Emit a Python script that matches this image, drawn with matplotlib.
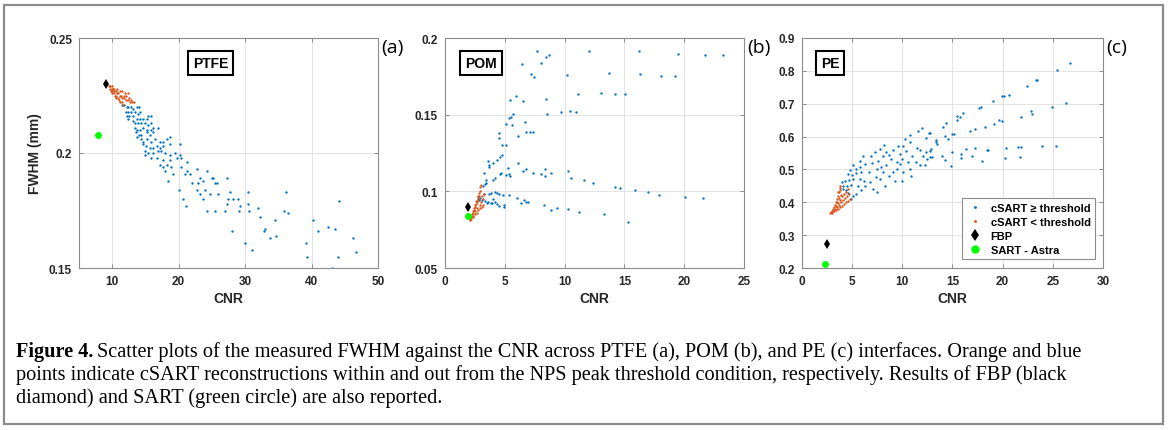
import matplotlib
matplotlib.use("Agg")
import matplotlib.pyplot as plt
from matplotlib.patches import Rectangle
import numpy as np

plt.rcParams['font.family'] = ['Liberation Sans', 'DejaVu Sans']

# ---------------- data ----------------
# (a) PTFE
ptfe_blue_cnr = [11.4, 11.8, 12.2, 12.4, 12.8, 13.2, 13.7, 14.1, 12.1, 12.4, 12.9, 13.4, 13.9, 14.2,
                 12.2, 12.5, 13.2, 13.7, 14.2, 14.7, 15.2, 15.4, 15.8, 12.4, 13.1, 13.4, 13.9, 14.4,
                 14.9, 15.4, 15.9, 13.4, 13.7, 14.2, 14.7, 15.2, 15.9, 16.2, 16.9, 13.6, 14.1, 14.4,
                 15.2, 15.7, 16.2, 13.8, 14.4, 14.7, 15.2, 15.9, 16.4, 17.2, 17.7, 18.2, 18.7, 14.6,
                 15.1, 15.7, 16.2, 16.7, 17.2, 17.7, 18.7, 20.2, 15.0, 15.4, 16.2, 16.9, 17.4, 17.9,
                 18.7, 19.4, 14.9, 15.9, 16.7, 17.7, 18.7, 19.7, 20.2, 20.4, 21.2, 17.2, 17.7, 18.2,
                 18.9, 19.2, 17.9, 20.4, 21.2, 21.7, 22.7, 23.2, 22.9, 23.7, 24.2, 25.0, 25.7, 25.2,
                 21.0, 22.0, 22.7, 23.2, 23.7, 24.0, 24.7, 25.4, 25.9, 27.2, 27.7, 27.4, 27.2, 28.2,
                 29.0, 29.2, 30.5, 30.5, 30.6, 31.9, 32.2, 32.8, 33.0, 33.8, 34.7, 34.5, 35.8, 36.1,
                 36.5, 28.1, 30.0, 31.0, 39.2, 39.3, 40.2, 41.0, 42.5, 43.5, 44.2, 44.0, 43.1, 46.3,
                 46.7, 20.1, 20.6, 21.1, 18.4, 24.2, 25.4, 26.9, 29.1]
ptfe_blue_fwhm = [0.221, 0.221, 0.220, 0.220, 0.220, 0.219, 0.220, 0.220, 0.218, 0.218, 0.218, 0.218, 0.217, 0.218,
                  0.216, 0.216, 0.216, 0.215, 0.215, 0.215, 0.215, 0.216, 0.216, 0.215, 0.214, 0.213, 0.213, 0.213,
                  0.213, 0.212, 0.213, 0.211, 0.210, 0.210, 0.211, 0.210, 0.210, 0.211, 0.211, 0.209, 0.208, 0.208,
                  0.209, 0.208, 0.209, 0.207, 0.206, 0.205, 0.206, 0.205, 0.206, 0.205, 0.205, 0.206, 0.207, 0.204,
                  0.203, 0.202, 0.202, 0.203, 0.202, 0.203, 0.204, 0.204, 0.201, 0.200, 0.200, 0.201, 0.201, 0.200,
                  0.199, 0.200, 0.199, 0.198, 0.198, 0.197, 0.197, 0.198, 0.199, 0.198, 0.196, 0.195, 0.194, 0.195,
                  0.194, 0.191, 0.192, 0.194, 0.192, 0.191, 0.193, 0.189, 0.187, 0.188, 0.192, 0.189, 0.187, 0.189,
                  0.191, 0.187, 0.184, 0.182, 0.180, 0.184, 0.182, 0.187, 0.182, 0.189, 0.183, 0.180, 0.178, 0.180,
                  0.180, 0.177, 0.183, 0.178, 0.175, 0.176, 0.172, 0.166, 0.167, 0.163, 0.164, 0.171, 0.175, 0.183,
                  0.174, 0.166, 0.161, 0.158, 0.161, 0.155, 0.171, 0.166, 0.168, 0.167, 0.179, 0.155, 0.150, 0.163,
                  0.157, 0.184, 0.180, 0.177, 0.188, 0.175, 0.175, 0.175, 0.175]
ptfe_orange_cnr = [9.5, 9.7, 9.9, 10.1, 10.3, 10.5, 10.7, 10.9, 11.1, 11.3, 11.5, 11.8, 12.1, 12.4, 12.7, 13.0,
                   13.3, 9.6, 9.8, 10.0, 10.2, 10.4, 10.6, 10.8, 11.0, 11.2, 11.4, 11.6, 9.9, 10.3, 10.7, 11.1,
                   11.5, 11.9, 12.3, 12.0, 12.6, 11.7, 12.9, 10.0, 10.5]
ptfe_orange_fwhm = [0.229, 0.229, 0.228, 0.228, 0.227, 0.227, 0.226, 0.226, 0.225, 0.225, 0.224, 0.224, 0.223, 0.223,
                    0.222, 0.222, 0.222, 0.228, 0.227, 0.226, 0.226, 0.225, 0.224, 0.224, 0.223, 0.222, 0.222, 0.221,
                    0.229, 0.228, 0.228, 0.227, 0.227, 0.226, 0.226, 0.225, 0.224, 0.225, 0.223, 0.227, 0.225]
ptfe_fbp = (9.1, 0.230)
ptfe_sart = (7.9, 0.208)

# (b) POM
pom_blue_cnr = [7.66, 6.40, 8.02, 8.41, 8.71, 7.15, 7.46, 10.22, 5.40, 5.96, 6.51, 8.41, 11.11, 8.49, 5.71,
                5.54, 5.37, 9.69, 10.47, 10.94, 6.68, 5.07, 5.62, 4.54, 4.48, 6.07, 6.74, 7.13, 7.38, 4.79,
                5.12, 4.76, 4.57, 4.34, 3.56, 3.70, 4.01, 3.65, 6.07, 5.23, 5.32, 5.07, 4.68, 4.59, 5.40,
                6.49, 6.74, 7.38, 8.35, 7.99, 8.32, 8.85, 10.25, 10.52, 11.66, 12.36, 3.29, 3.42, 3.42,
                3.31, 3.20, 3.98, 4.15, 3.65, 3.87, 4.18, 4.37, 4.54, 4.87, 5.37, 3.23, 2.87, 3.12, 3.31,
                3.56, 3.90, 4.18, 4.37, 4.54, 4.90, 4.93, 5.99, 6.32, 6.57, 6.79, 6.93, 2.73, 2.95, 8.30,
                8.83, 9.38, 10.27, 11.19, 3.48, 3.81, 4.04, 16.23, 19.49, 21.74, 23.25, 13.75, 16.31,
                18.07, 19.24, 13.03, 14.25, 15.06, 14.25, 14.61, 15.89, 16.98, 17.87, 20.07, 21.55,
                13.31, 15.31, 12.0]
pom_blue_fwhm = [0.1918, 0.1831, 0.1837, 0.1874, 0.1889, 0.1766, 0.1746, 0.1761, 0.1598, 0.1620, 0.1588, 0.1601,
                 0.1638, 0.1505, 0.1505, 0.1488, 0.1477, 0.1520, 0.1522, 0.1520, 0.1449, 0.1438, 0.1434, 0.1381,
                 0.1349, 0.1360, 0.1384, 0.1386, 0.1386, 0.1299, 0.1299, 0.1234, 0.1225, 0.1203, 0.1195, 0.1173,
                 0.1182, 0.1160, 0.1186, 0.1151, 0.1110, 0.1108, 0.1119, 0.1114, 0.1103, 0.1134, 0.1143, 0.1121,
                 0.1145, 0.1110, 0.1103, 0.1119, 0.1132, 0.1090, 0.1073, 0.1056, 0.1117, 0.1071, 0.1056, 0.1047,
                 0.1038, 0.1077, 0.1088, 0.0984, 0.0991, 0.0995, 0.0991, 0.0982, 0.0978, 0.0973, 0.0982, 0.0943,
                 0.0941, 0.0934, 0.0930, 0.0925, 0.0930, 0.0917, 0.0904, 0.0908, 0.0897, 0.0958, 0.0925, 0.0941,
                 0.0932, 0.0930, 0.0952, 0.0956, 0.0908, 0.0876, 0.0891, 0.0882, 0.0865, 0.0925, 0.0921, 0.0951,
                 0.1918, 0.1898, 0.1891, 0.1889, 0.1772, 0.1763, 0.1755, 0.1752, 0.1640, 0.1635, 0.1635, 0.1027,
                 0.1019, 0.1008, 0.0997, 0.0975, 0.0964, 0.0956, 0.0849, 0.0802, 0.1917]
pom_orange_cnr = [2.05, 2.10, 2.15, 2.20, 2.25, 2.30, 2.35, 2.40, 2.45, 2.50, 2.55, 2.60, 2.65, 2.70, 2.75, 2.80,
                  2.85, 2.90, 2.95, 3.00, 2.20, 2.35, 2.50, 2.65, 2.80, 2.95, 3.10, 3.20, 2.30, 2.50, 2.70, 2.90,
                  3.05, 3.20, 2.60, 2.75, 2.85, 3.10, 3.25]
pom_orange_fwhm = [0.081, 0.082, 0.083, 0.084, 0.085, 0.086, 0.087, 0.088, 0.089, 0.090, 0.091, 0.092, 0.093, 0.094,
                   0.095, 0.096, 0.097, 0.100, 0.103, 0.104, 0.082, 0.083, 0.085, 0.086, 0.088, 0.089, 0.090, 0.091,
                   0.084, 0.087, 0.089, 0.091, 0.093, 0.095, 0.094, 0.097, 0.099, 0.097, 0.098]
pom_fbp = (1.89, 0.090)
pom_sart = (1.89, 0.0838)

# (c) PE
pe_blue_cnr = [26.74, 25.41, 23.44, 23.28, 22.41, 20.61, 20.15, 19.91, 19.08, 17.85, 17.65, 16.02, 15.75, 15.42,
               15.42, 14.35, 14.09, 26.27, 24.94, 22.84, 22.88, 21.78, 19.98, 19.61, 19.11, 18.22, 17.22, 16.78,
               15.15, 14.92, 14.59, 14.29, 13.42, 13.32, 12.75, 25.34, 23.94, 21.81, 21.55, 20.38, 18.58, 18.45,
               17.22, 16.35, 15.82, 14.99, 12.75, 13.92, 14.25, 14.82, 15.88, 16.98, 17.98, 20.21, 21.68, 12.92,
               11.92, 11.56, 12.65, 10.76, 13.35, 12.32, 10.29, 10.72, 9.59, 10.09, 8.16, 7.76, 8.42, 9.02, 8.66,
               9.76, 10.36, 11.42, 11.75, 12.32, 12.82, 12.09, 12.42, 12.75, 10.92, 10.59, 9.92, 9.49, 11.75,
               12.25, 8.92, 8.09, 7.26, 6.86, 7.59, 6.93, 6.09, 5.76, 6.26, 5.76, 5.43, 5.09, 4.76, 4.60, 5.03,
               5.43, 5.93, 6.69, 7.43, 7.86, 8.42, 8.09, 7.36, 7.76, 6.76, 6.19, 5.76, 5.09, 4.70, 4.30, 3.96,
               4.10, 4.50, 4.93, 5.59, 6.26, 7.09, 5.93, 5.43, 5.09, 4.86, 4.43, 4.10, 4.60, 10.86, 9.49, 10.09,
               8.69, 9.26, 7.43, 8.26, 9.09, 9.76, 10.76, 11.36, 9.92]
pe_blue_fwhm = [0.823, 0.804, 0.772, 0.772, 0.755, 0.727, 0.725, 0.722, 0.707, 0.691, 0.686, 0.673, 0.659, 0.664,
                0.651, 0.642, 0.630, 0.701, 0.691, 0.678, 0.668, 0.659, 0.647, 0.651, 0.638, 0.630, 0.622, 0.618,
                0.607, 0.609, 0.592, 0.602, 0.577, 0.590, 0.611, 0.571, 0.571, 0.568, 0.568, 0.565, 0.559, 0.559,
                0.565, 0.562, 0.548, 0.552, 0.555, 0.540, 0.528, 0.510, 0.536, 0.540, 0.525, 0.534, 0.537, 0.537,
                0.626, 0.618, 0.611, 0.606, 0.583, 0.596, 0.593, 0.583, 0.571, 0.570, 0.575, 0.563, 0.553, 0.558,
                0.544, 0.547, 0.556, 0.564, 0.558, 0.553, 0.561, 0.542, 0.532, 0.537, 0.542, 0.524, 0.532, 0.524,
                0.514, 0.514, 0.532, 0.542, 0.553, 0.541, 0.527, 0.520, 0.542, 0.527, 0.517, 0.507, 0.502, 0.512,
                0.497, 0.487, 0.484, 0.490, 0.492, 0.492, 0.502, 0.507, 0.512, 0.492, 0.477, 0.471, 0.461, 0.466,
                0.471, 0.471, 0.468, 0.466, 0.461, 0.451, 0.451, 0.453, 0.449, 0.451, 0.441, 0.436, 0.426, 0.419,
                0.411, 0.436, 0.439, 0.429, 0.481, 0.502, 0.492, 0.481, 0.466, 0.431, 0.451, 0.492, 0.517, 0.502,
                0.522, 0.466]
pe_orange_cnr = [2.8, 2.9, 3.0, 3.1, 3.2, 3.3, 3.4, 3.5, 3.6, 3.7, 3.8, 3.75, 3.0, 3.2, 3.4, 3.6, 3.8, 4.0, 4.2,
                 4.4, 4.6, 4.8, 3.1, 3.3, 3.5, 3.7, 3.9, 4.1, 4.3, 4.5, 4.7, 3.4, 3.6, 3.8, 4.0, 4.2, 3.5, 3.7,
                 3.9, 3.6, 3.8, 4.4, 4.6]
pe_orange_fwhm = [0.366, 0.370, 0.375, 0.380, 0.386, 0.392, 0.400, 0.410, 0.420, 0.432, 0.443, 0.450, 0.368, 0.372,
                  0.376, 0.380, 0.385, 0.390, 0.395, 0.400, 0.405, 0.410, 0.375, 0.380, 0.387, 0.393, 0.400, 0.407,
                  0.413, 0.420, 0.425, 0.390, 0.398, 0.408, 0.418, 0.425, 0.400, 0.412, 0.422, 0.430, 0.437, 0.430,
                  0.440]
pe_fbp = (2.53, 0.272)
pe_sart = (2.26, 0.211)

BLUE = '#0072BD'
ORANGE = '#D95319'
GREEN = '#00FF00'

W, H = 1169, 431
fig = plt.figure(figsize=(W / 100, H / 100), dpi=100)

# outer frame of the figure box
fig.patches.append(Rectangle((4 / W, 1 - 425 / H), 1159 / W, 419 / H, transform=fig.transFigure,
                             fill=False, edgecolor='#8c8c8c', linewidth=1.6))


def make_ax(left, right, top=39, bottom=269):
    return fig.add_axes([left / W, 1 - bottom / H, (right - left) / W, (bottom - top) / H])


def style(ax, xlim, ylim, xticks, yticks, ylabels):
    ax.set_xlim(*xlim)
    ax.set_ylim(*ylim)
    ax.set_xticks(xticks)
    ax.set_yticks(yticks)
    ax.set_yticklabels(ylabels)
    ax.grid(True, color='#e3e3e3', linewidth=0.7)
    ax.set_axisbelow(True)
    ax.tick_params(direction='in', length=3, width=0.7, colors='#8c8c8c', top=True, right=True,
                   labelcolor='#262626', labelsize=8.5, pad=5)
    for lab in ax.get_xticklabels() + ax.get_yticklabels():
        lab.set_fontweight('bold')
    for sp in ax.spines.values():
        sp.set_color('#8c8c8c')
        sp.set_linewidth(0.8)
    ax.set_xlabel('CNR', fontsize=10, fontweight='bold', color='#262626', labelpad=3)


def draw(ax, bc, bf, oc, of, fbp, sart, name, tx, letter):
    ax.plot(bc, bf, '.', color=BLUE, ms=3.4, mew=0, label='cSART ≥ threshold')
    ax.plot(oc, of, '.', color=ORANGE, ms=3.4, mew=0, label='cSART < threshold')
    ax.plot(*fbp, 'd', color='black', ms=5, mew=0, label='FBP')
    ax.plot(*sart, 'o', color=GREEN, ms=5, mew=0, label='SART - Astra')
    ax.text(tx, 0.89, name, transform=ax.transAxes, ha='center', va='center', fontsize=10,
            fontweight='bold', bbox=dict(boxstyle='square,pad=0.35', fc='white', ec='black', lw=1.5))
    ax.text(1.01, 0.96, letter, transform=ax.transAxes, ha='left', va='center', fontsize=14,
            family=['Open Sans', 'DejaVu Sans'])


ax1 = make_ax(79, 378)
style(ax1, (5, 50), (0.15, 0.25), [10, 20, 30, 40, 50], [0.15, 0.2, 0.25], ['0.15', '0.2', '0.25'])
draw(ax1, ptfe_blue_cnr, ptfe_blue_fwhm, ptfe_orange_cnr, ptfe_orange_fwhm, ptfe_fbp, ptfe_sart,
     'PTFE', 0.44, '(a)')
ax1.set_ylabel('FWHM (mm)', fontsize=10, fontweight='bold', color='#262626', labelpad=5)

ax2 = make_ax(445, 744)
style(ax2, (0, 25), (0.05, 0.2), [0, 5, 10, 15, 20, 25], [0.05, 0.1, 0.15, 0.2],
      ['0.05', '0.1', '0.15', '0.2'])
draw(ax2, pom_blue_cnr, pom_blue_fwhm, pom_orange_cnr, pom_orange_fwhm, pom_fbp, pom_sart,
     'POM', 0.12, '(b)')

ax3 = make_ax(802, 1103)
yt3 = [0.2, 0.3, 0.4, 0.5, 0.6, 0.7, 0.8, 0.9]
style(ax3, (0, 30), (0.2, 0.9), [0, 5, 10, 15, 20, 25, 30], yt3, ['%.1f' % v for v in yt3])
draw(ax3, pe_blue_cnr, pe_blue_fwhm, pe_orange_cnr, pe_orange_fwhm, pe_fbp, pe_sart,
     'PE', 0.093, '(c)')
leg = ax3.legend(loc='lower right', bbox_to_anchor=(1 - 8 / 301, 9 / 230), borderaxespad=0,
                 fancybox=False, edgecolor='#8c8c8c', framealpha=1, prop={'weight': 'bold', 'size': 8},
                 handletextpad=0.6, labelspacing=0.35, borderpad=0.4, handlelength=1.6, markerscale=1.2)
leg.get_frame().set_linewidth(0.8)

# caption
cap_font = ['Liberation Serif', 'DejaVu Serif']
cap_size = 14.6
t0 = fig.text(16 / W, 1 - 352 / H, 'Figure 4.', fontsize=cap_size, fontweight='bold',
              family=cap_font, va='center', ha='left')
fig.canvas.draw()
bb = t0.get_window_extent(fig.canvas.get_renderer())
fig.text(bb.x1 / W + 4 / W, 1 - 352 / H,
         'Scatter plots of the measured FWHM against the CNR across PTFE (a), POM (b), and PE (c) '
         'interfaces. Orange and blue', fontsize=cap_size, family=cap_font, va='center', ha='left')
fig.text(16 / W, 1 - 375 / H,
         'points indicate cSART reconstructions within and out from the NPS peak threshold condition, '
         'respectively. Results of FBP (black', fontsize=cap_size, family=cap_font, va='center', ha='left')
fig.text(16 / W, 1 - 398 / H, 'diamond) and SART (green circle) are also reported.',
         fontsize=cap_size, family=cap_font, va='center', ha='left')

fig.savefig('out.png', dpi=100)
